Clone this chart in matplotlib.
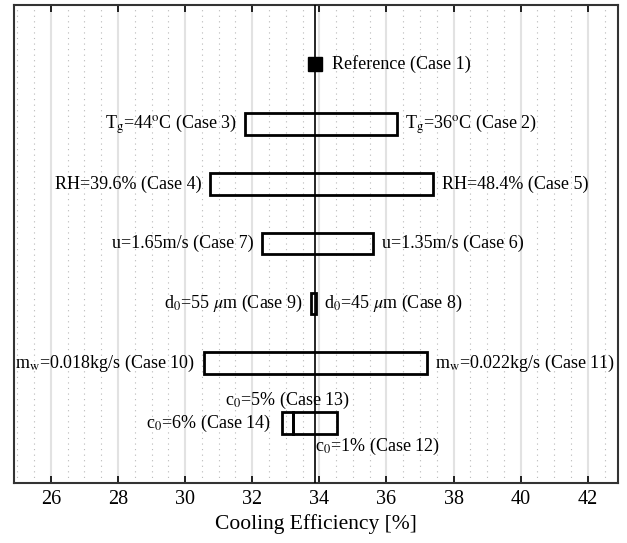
import numpy as np
import matplotlib
matplotlib.use('Agg')
import matplotlib.pyplot as plt
from matplotlib.ticker import MultipleLocator

plt.rcParams['font.family'] = 'Liberation Serif'
plt.rcParams['mathtext.fontset'] = 'stix'

# cooling efficiency [%] for each case
reference = 33.87

left_labels = [r'T$_\mathrm{g}$=44$^\mathrm{o}$C (Case 3)',
               'RH=39.6% (Case 4)',
               'u=1.65m/s (Case 7)',
               r'd$_\mathrm{0}$=55 $\mu$m (Case 9)',
               r'm$_\mathrm{w}$=0.018kg/s (Case 10)']
left_vals = [31.79, 30.75, 32.29, 33.76, 30.55]

right_labels = [r'T$_\mathrm{g}$=36$^\mathrm{o}$C (Case 2)',
                'RH=48.4% (Case 5)',
                'u=1.35m/s (Case 6)',
                r'd$_\mathrm{0}$=45 $\mu$m (Case 8)',
                r'm$_\mathrm{w}$=0.022kg/s (Case 11)']
right_vals = [36.30, 37.40, 35.61, 33.90, 37.21]

c0_labels = [r'c$_\mathrm{0}$=1% (Case 12)',
             r'c$_\mathrm{0}$=5% (Case 13)',
             r'c$_\mathrm{0}$=6% (Case 14)']
c0_vals = [34.54, 33.20, 32.89]

fs = 13
fig = plt.figure(figsize=(6.27, 5.43), dpi=100)
ax = fig.add_axes([14 / 627, 1 - 482.7 / 543, (618 - 14) / 627, (482.7 - 4.7) / 543])

rows = np.arange(6, 1, -1)
h = 0.36
ax.barh(rows, np.array(right_vals) - np.array(left_vals), left=left_vals, height=h,
        fill=False, edgecolor='black', linewidth=2, zorder=3)

for y, lo, hi, ll, rl in zip(rows, left_vals, right_vals, left_labels, right_labels):
    ax.annotate(ll, (lo, y), xytext=(-6, 0), textcoords='offset points',
                ha='right', va='center', fontsize=fs)
    ax.annotate(rl, (hi, y), xytext=(6, 0), textcoords='offset points',
                ha='left', va='center', fontsize=fs)

# c0 row: two boxes sharing the 5% edge
ax.barh([1, 1], [c0_vals[1] - c0_vals[2], c0_vals[0] - c0_vals[1]],
        left=[c0_vals[2], c0_vals[1]], height=h,
        fill=False, edgecolor='black', linewidth=2, zorder=3)
ax.annotate(c0_labels[2], (c0_vals[2], 1), xytext=(-8, 0), textcoords='offset points',
            ha='right', va='center', fontsize=fs)
ax.annotate(c0_labels[1], (c0_vals[1], 1), xytext=(-4, 16), textcoords='offset points',
            ha='center', va='center', fontsize=fs)
ax.annotate(c0_labels[0], (reference, 1), xytext=(0, -17), textcoords='offset points',
            ha='left', va='center', fontsize=fs)

ax.axvline(reference, color='black', lw=1.2, zorder=4)
ax.plot(reference, 7, 's', color='black', ms=10, zorder=5)
ax.annotate('Reference (Case 1)', (reference, 7), xytext=(12, 0), textcoords='offset points',
            ha='left', va='center', fontsize=fs)

ax.set_xlim(24.9, 42.9)
ax.set_ylim(0, 8)
ax.set_yticks([])
ax.set_xticks(np.arange(26, 43, 2))
ax.xaxis.set_minor_locator(MultipleLocator(0.5))
ax.tick_params(axis='x', which='major', direction='in', top=True, length=5, width=1.2,
               labelsize=14.5, pad=5)
ax.tick_params(axis='x', which='minor', length=0)
ax.grid(which='major', axis='x', color='#e2e2e2', lw=1.5, zorder=0)
ax.grid(which='minor', axis='x', color='#b8b8b8', ls=(0, (1, 4)), lw=0.8, zorder=0)
ax.set_axisbelow(True)
for s in ax.spines.values():
    s.set_linewidth(1.5)
    s.set_color('#333333')
ax.set_xlabel('Cooling Efficiency [%]', fontsize=15.5, labelpad=4)

fig.savefig('out.png', dpi=100)
